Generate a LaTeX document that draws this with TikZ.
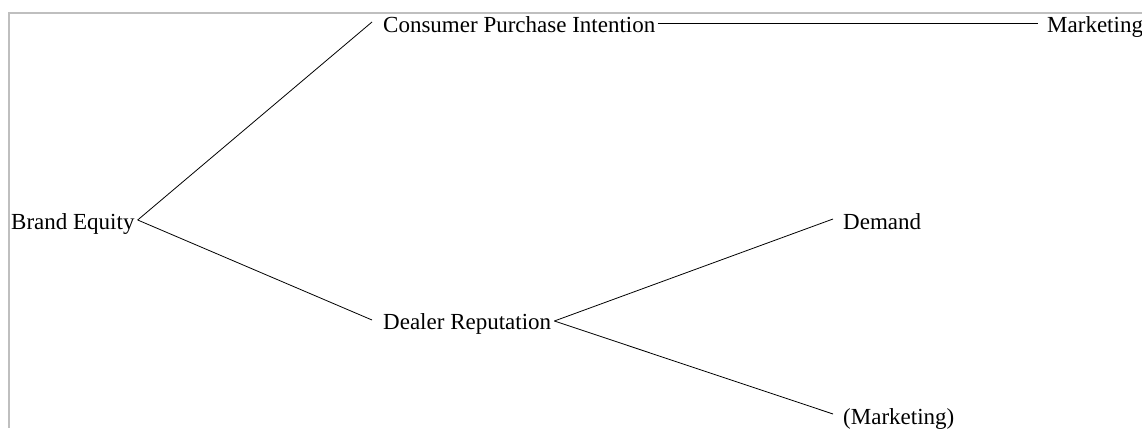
\documentclass[tikz,border=0pt]{standalone}
\usepackage{fontspec}
\setmainfont{Liberation Serif}
\begin{document}
\begin{tikzpicture}[x=1pt,y=-1pt,
  lbl/.style={anchor=base west,inner sep=0pt,font=\fontsize{23}{28}\selectfont},
  link/.style={draw=black,line width=0.8pt},
  frame/.style={draw=gray!50,line width=1.6pt}]
\clip (0,0) rectangle (1142,428);
\useasboundingbox (0,0) rectangle (1142,428);
% frame along the top and left edges
\draw[frame] (1142,13) -- (9,13) -- (9,428);
% labels
\node[lbl] (be)  at (11,229)   {Brand Equity};
\node[lbl] (cpi) at (383,33)   {Consumer Purchase Intention};
\node[lbl] (mk)  at (1047,33)  {Marketing};
\node[lbl] (dr)  at (383,329)  {Dealer Reputation};
\node[lbl] (dm)  at (843,229)  {Demand};
\node[lbl] (pm)  at (843,424)  {(Marketing)};
% connectors
\draw[link] ([shift={(3,-9)}]be.base east)  -- ([shift={(-11,-11)}]cpi.base west);
\draw[link] ([shift={(3,-9)}]be.base east)  -- ([shift={(-11,-9)}]dr.base west);
\draw[link] ([shift={(2,-10)}]cpi.base east) -- ([shift={(-9,-10)}]mk.base west);
\draw[link] ([shift={(3,-8)}]dr.base east)  -- ([shift={(-10,-10)}]dm.base west);
\draw[link] ([shift={(3,-8)}]dr.base east)  -- ([shift={(-10,-10)}]pm.base west);
\end{tikzpicture}
\end{document}
